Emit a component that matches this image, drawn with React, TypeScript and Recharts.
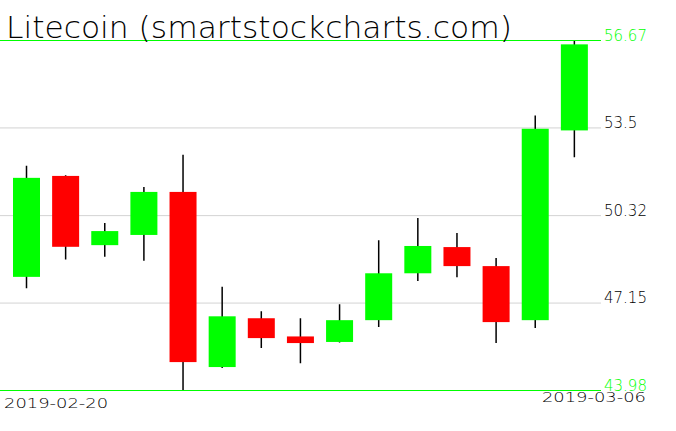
import React from 'react';
import { ComposedChart, Bar, XAxis, YAxis, CartesianGrid, ReferenceLine } from 'recharts';

const dates = [
  '2019-02-20', '2019-02-21', '2019-02-22', '2019-02-23', '2019-02-24',
  '2019-02-25', '2019-02-26', '2019-02-27', '2019-02-28', '2019-03-01',
  '2019-03-02', '2019-03-03', '2019-03-04', '2019-03-05', '2019-03-06',
];
const opens = [48.10, 51.76, 49.25, 49.62, 51.18, 44.83, 46.60, 45.94, 45.74, 46.53, 48.23, 49.18, 48.49, 46.53, 53.41];
const highs = [52.13, 51.78, 50.05, 51.36, 52.53, 47.74, 46.85, 46.60, 47.11, 49.43, 50.23, 49.69, 48.78, 53.95, 56.67];
const lows = [47.69, 48.73, 48.83, 48.68, 43.98, 44.80, 45.52, 44.97, 45.72, 46.28, 47.95, 48.09, 45.70, 46.25, 52.44];
const closes = [51.69, 49.19, 49.76, 51.18, 45.01, 46.67, 45.88, 45.70, 46.53, 48.23, 49.22, 48.49, 46.46, 53.47, 56.53];
const priceTicks = [43.98, 47.15, 50.32, 53.5, 56.67];

const UP = '#00ff00';
const DOWN = '#ff0000';
const FONT = '"DejaVu Sans", sans-serif';

const data = dates.map((d, i) => ({
  date: d,
  open: opens[i],
  high: highs[i],
  low: lows[i],
  close: closes[i],
  range: [lows[i], highs[i]],
}));

// candle = wick over the full high/low range + body between open and close
const Candle = (props: any) => {
  const { x, y, width, height, payload } = props;
  const { open, close, high, low } = payload;
  const top = Math.min(y, y + height);
  const h = Math.abs(height);
  const ratio = high - low > 0 ? h / (high - low) : 0;
  const bodyTop = top + (high - Math.max(open, close)) * ratio;
  const bodyBottom = top + (high - Math.min(open, close)) * ratio;
  const cx = x + width / 2;
  return (
    <g>
      <line x1={cx} x2={cx} y1={top} y2={top + h} stroke="#000" strokeWidth={1.5} />
      <rect x={x} y={bodyTop} width={width} height={Math.max(bodyBottom - bodyTop, 1)} fill={close >= open ? UP : DOWN} />
    </g>
  );
};

const PriceTick = (props: any) => {
  const { x, y, payload } = props;
  const v = payload.value;
  const edge = v === priceTicks[0] || v === priceTicks[priceTicks.length - 1];
  return (
    <text x={x + 3} y={y} fill={edge ? UP : '#000'} fontSize={15} fontFamily={FONT} fontWeight={200} textAnchor="start">
      {v}
    </text>
  );
};

const DateTick = (props: any) => {
  const { x, y, index, payload } = props;
  if (index === 0) {
    return (
      <text x={x - 22.5} y={y + 17} fontSize={14} fontFamily={FONT} fontWeight={200} textLength={104} lengthAdjust="spacingAndGlyphs" fill="#000">
        {payload.value}
      </text>
    );
  }
  if (index === dates.length - 1) {
    return (
      <text x={x + 71.5} y={y + 11.5} fontSize={14} fontFamily={FONT} fontWeight={200} textAnchor="end" textLength={104} lengthAdjust="spacingAndGlyphs" fill="#000">
        {payload.value}
      </text>
    );
  }
  return <g />;
};

export default function App() {
  return (
    <div style={{ position: 'absolute', left: 0, top: 0, width: 676, height: 431, background: '#fff' }}>
      <ComposedChart width={676} height={431} data={data} margin={{ top: 40.5, right: 0, bottom: 10.5, left: 0 }}>
        <CartesianGrid vertical={false} stroke="#d3d3d3" />
        <XAxis
          dataKey="date"
          padding={{ left: 7, right: 7 }}
          interval={0}
          axisLine={false}
          tickLine={false}
          tickSize={0}
          tickMargin={0}
          height={30}
          tick={<DateTick />}
        />
        <YAxis
          orientation="right"
          width={75}
          domain={[43.98, 56.67]}
          ticks={priceTicks}
          allowDataOverflow
          axisLine={false}
          tickLine={false}
          tickSize={0}
          tickMargin={0}
          tick={<PriceTick />}
        />
        <ReferenceLine y={56.67} stroke={UP} strokeWidth={1} />
        <ReferenceLine y={43.98} stroke={UP} strokeWidth={1} />
        <Bar dataKey="range" barSize={27} shape={<Candle />} isAnimationActive={false} />
      </ComposedChart>
      <svg width={676} height={50} style={{ position: 'absolute', left: 0, top: 0, pointerEvents: 'none' }}>
        <text x={6} y={37.5} fontSize={30} fontFamily={FONT} fontWeight={200} textLength={506} lengthAdjust="spacingAndGlyphs" fill="#000">
          Litecoin (smartstockcharts.com)
        </text>
      </svg>
    </div>
  );
}
